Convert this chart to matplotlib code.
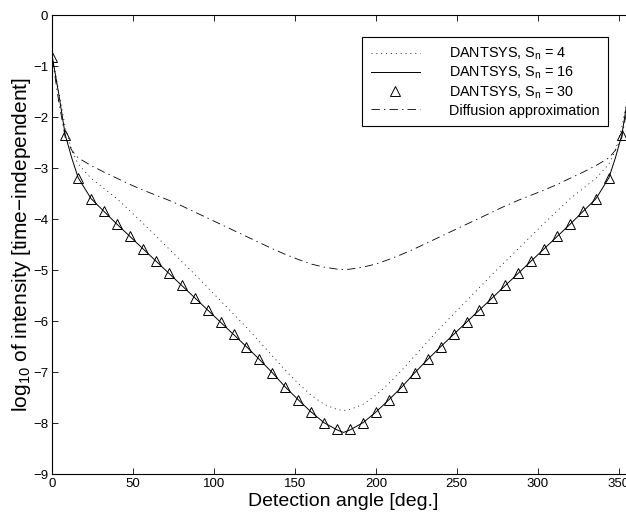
import matplotlib
matplotlib.use("Agg")
import matplotlib.pyplot as plt
from matplotlib.lines import Line2D

plt.rcParams['font.family'] = ['Liberation Sans', 'DejaVu Sans']
plt.rcParams['mathtext.fontset'] = 'custom'
plt.rcParams['mathtext.rm'] = 'Liberation Sans'
plt.rcParams['mathtext.it'] = 'Liberation Sans:italic'
plt.rcParams['lines.scale_dashes'] = False

# ---- data ----
line_angles = [0, 4, 8, 12, 16, 24, 32, 40, 48, 56, 64, 72, 80, 88, 96, 104, 112, 120,
               128, 136, 144, 152, 160, 168, 176, 180,
               184, 192, 200, 208, 216, 224, 232, 240, 248, 256, 264, 272, 280, 288,
               296, 304, 312, 320, 328, 336, 344, 348, 352, 356, 360]

sn16 = [-0.82, -1.55, -2.35, -2.80, -3.19, -3.60, -3.85, -4.10, -4.34, -4.58, -4.82, -5.06,
        -5.30, -5.54, -5.78, -6.02, -6.26, -6.50, -6.75, -7.01, -7.29, -7.54, -7.78, -7.99,
        -8.13, -8.18,
        -8.13, -7.99, -7.78, -7.54, -7.29, -7.01, -6.75, -6.50, -6.26, -6.02, -5.78, -5.54,
        -5.30, -5.06, -4.82, -4.58, -4.34, -4.10, -3.85, -3.60, -3.19, -2.80, -2.35, -1.55, -0.82]

sn4 = [-0.82, -1.50, -2.20, -2.65, -2.92, -3.20, -3.40, -3.60, -3.84, -4.08, -4.33, -4.58,
       -4.83, -5.08, -5.34, -5.60, -5.86, -6.12, -6.40, -6.68, -6.96, -7.22, -7.45, -7.63,
       -7.73, -7.75,
       -7.73, -7.63, -7.45, -7.22, -6.96, -6.68, -6.40, -6.12, -5.86, -5.60, -5.34, -5.08,
       -4.83, -4.58, -4.33, -4.08, -3.84, -3.60, -3.40, -3.20, -2.92, -2.65, -2.20, -1.50, -0.82]

diffusion = [-0.85, -1.70, -2.40, -2.65, -2.80, -2.95, -3.08, -3.20, -3.32, -3.43, -3.53, -3.63,
             -3.74, -3.86, -3.98, -4.10, -4.22, -4.34, -4.46, -4.58, -4.69, -4.79, -4.88, -4.94,
             -4.98, -4.99,
             -4.98, -4.94, -4.88, -4.79, -4.69, -4.58, -4.46, -4.34, -4.22, -4.10, -3.98, -3.86,
             -3.74, -3.63, -3.53, -3.43, -3.32, -3.20, -3.08, -2.95, -2.80, -2.65, -2.40, -1.70, -0.85]

tri_angles = list(range(0, 353, 8))
sn30 = [-0.82, -2.35, -3.19, -3.60, -3.85, -4.10, -4.34, -4.58, -4.82, -5.06, -5.30, -5.54,
        -5.78, -6.02, -6.26, -6.50, -6.75, -7.01, -7.29, -7.54, -7.78, -7.99, -8.12,
        -8.12, -7.99, -7.78, -7.54, -7.29, -7.01, -6.75, -6.50, -6.26, -6.02, -5.78, -5.54,
        -5.30, -5.06, -4.82, -4.58, -4.34, -4.10, -3.85, -3.60, -3.19, -2.35]

labels = ['DANTSYS, S$_{\\mathrm{n}}$ = 4', 'DANTSYS, S$_{\\mathrm{n}}$ = 16',
          'DANTSYS, S$_{\\mathrm{n}}$ = 30', 'Diffusion approximation']
xticks = [0, 50, 100, 150, 200, 250, 300, 350]
yticks = [0, -1, -2, -3, -4, -5, -6, -7, -8, -9]

# ---- figure ----
W, H = 626, 516
fig = plt.figure(figsize=(W / 100, H / 100), dpi=100)
left, right, top, bottom = 52.3, 634.8, 15.0, 474.3
ax = fig.add_axes([left / W, 1 - bottom / H, (right - left) / W, (bottom - top) / H])

dot_style = (0, (0.7, 2.8))
dashdot_style = (0, (6, 3, 1, 3))

ax.plot(line_angles, sn4, color='black', lw=0.6, linestyle=dot_style)
ax.plot(line_angles, sn16, color='black', lw=0.7, linestyle='-')
ax.plot(tri_angles, sn30, linestyle='none', marker='^', markersize=7,
        markerfacecolor='none', markeredgecolor='black', markeredgewidth=0.7)
ax.plot(line_angles, diffusion, color='black', lw=0.6, linestyle=dashdot_style)

ax.set_xlim(0, 360)
ax.set_ylim(-9, 0)
ax.set_xticks(xticks)
ax.set_yticks(yticks)
ax.tick_params(direction='in', length=4, width=0.6, top=True, right=True,
               labelsize=9.5, pad=3)
for s in ax.spines.values():
    s.set_linewidth(0.8)

ax.set_xlabel('Detection angle [deg.]', fontsize=14, labelpad=2)
ax.set_ylabel('log$_{\\mathrm{10}}$ of intensity [time\u2212independent]', fontsize=15, labelpad=0)

handles = [
    Line2D([], [], color='black', lw=0.6, linestyle=dot_style),
    Line2D([], [], color='black', lw=0.7, linestyle='-'),
    Line2D([], [], linestyle='none', marker='^', markersize=7, markerfacecolor='none',
           markeredgecolor='black', markeredgewidth=0.7),
    Line2D([], [], color='black', lw=0.6, linestyle=dashdot_style),
]
leg = ax.legend(handles, labels, loc='upper right', bbox_to_anchor=(608 / W, 1 - 37 / H),
                bbox_transform=fig.transFigure, borderaxespad=0, fontsize=10.4,
                frameon=True, fancybox=False, edgecolor='black', framealpha=1,
                handlelength=3.4, handletextpad=2.0, labelspacing=0.2,
                borderpad=0.6)
leg.get_frame().set_linewidth(0.8)

fig.savefig('out.png', dpi=100)
